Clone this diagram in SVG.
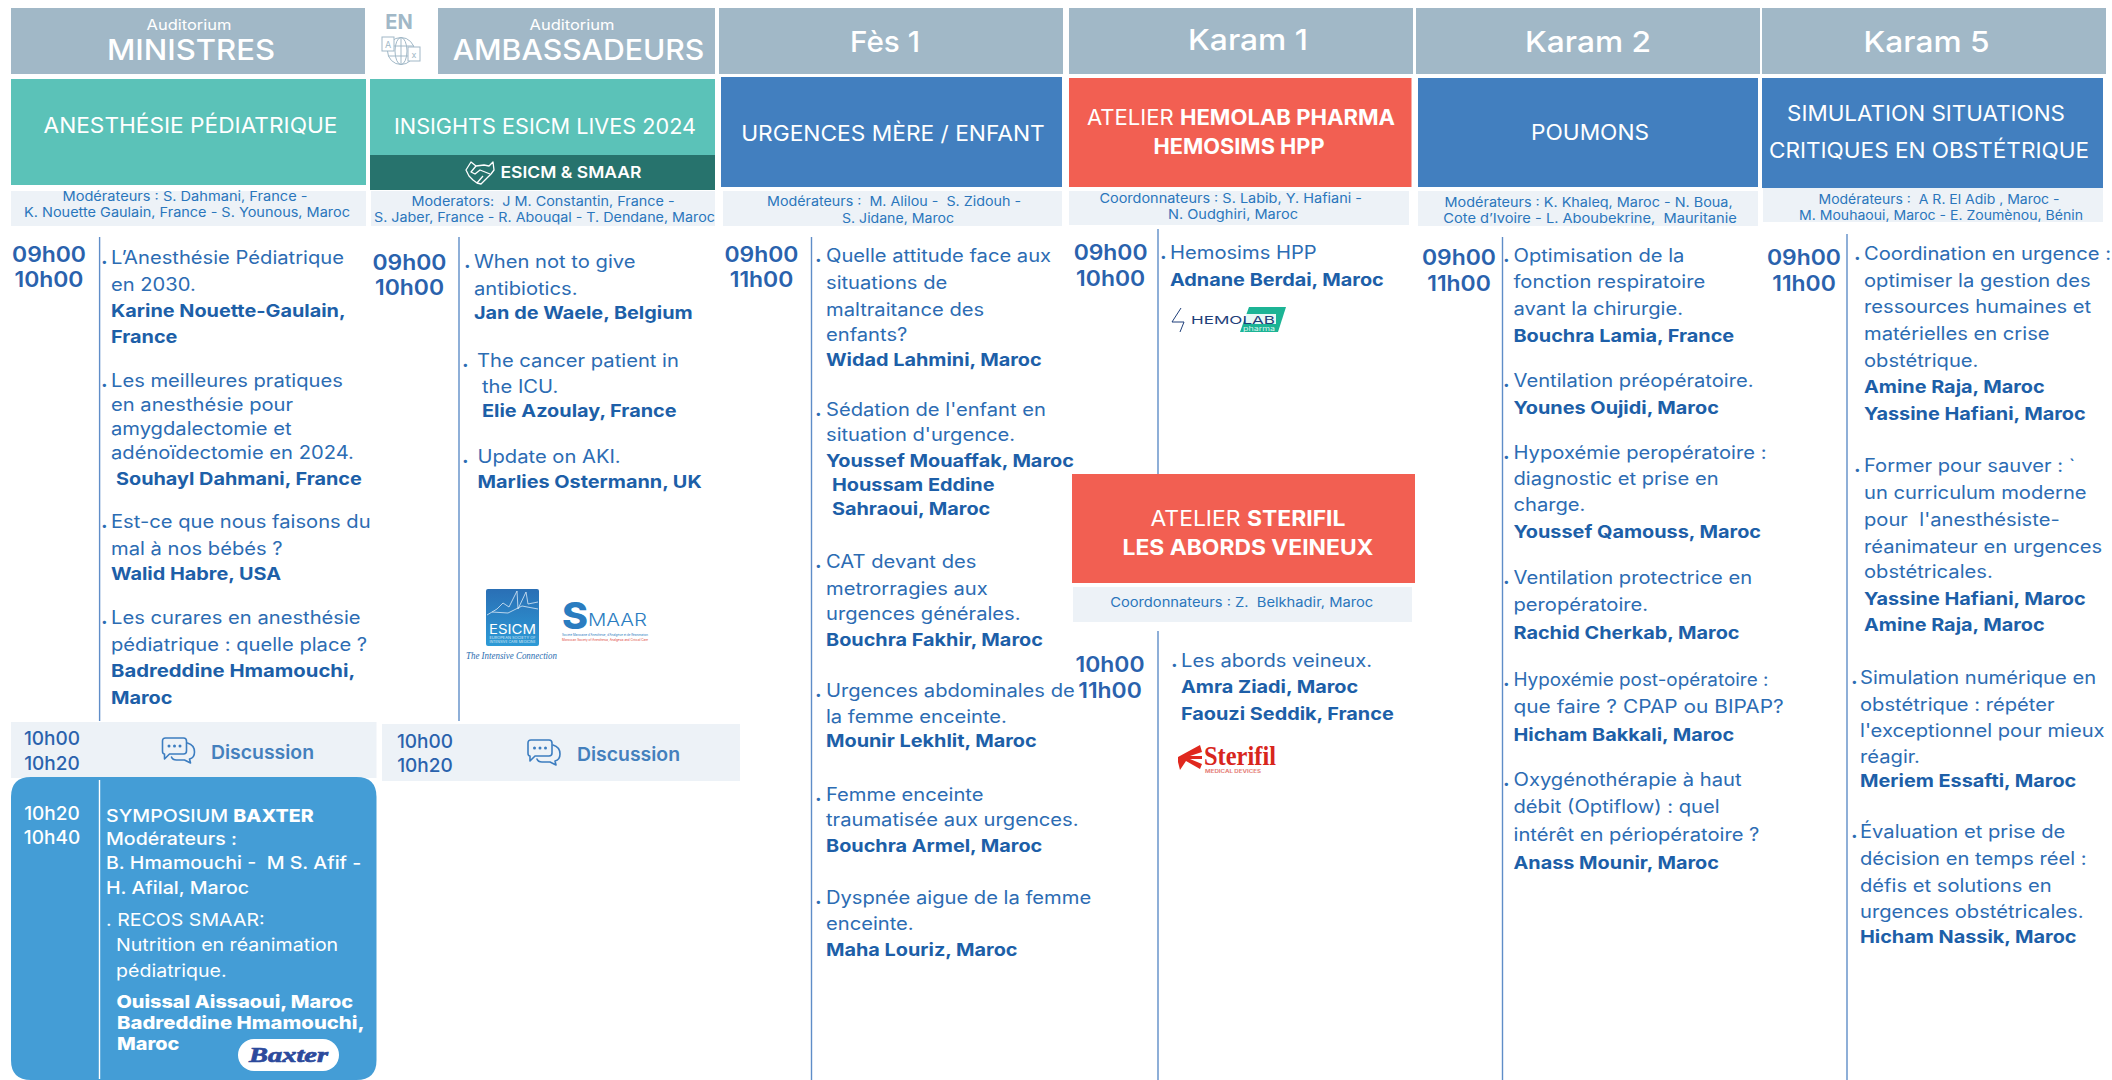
<svg xmlns="http://www.w3.org/2000/svg" width="2112" height="1080" viewBox="0 0 2112 1080">
<style>
text{font-family:Inter,"Noto Sans","Liberation Sans",sans-serif}
.hd{fill:#a1b8c7}
.hs{fill:#fff;font-size:14.5px;text-anchor:middle}
.ht{fill:#fff;font-size:29px;font-weight:500;text-anchor:middle}
.ti{fill:#fff;font-size:21px;text-anchor:middle}
.tib{font-weight:700}
.mb{fill:#edf2f7}
.mt{fill:#2a76bc;font-size:13px;text-anchor:middle}
.t{fill:#2a62ad;font-size:21px;font-weight:600;text-anchor:middle;transform-box:fill-box;transform-origin:50% 50%;transform:scaleX(1.09)}
.ts{fill:#2a62ad;font-size:19px;font-weight:500;text-anchor:middle}
.tw{fill:#fff;font-size:19px;font-weight:500;text-anchor:middle}
.b,.n,.w,.wb{transform-box:fill-box;transform-origin:0 50%;transform:scaleX(1.12)}
.n,.wb{transform:scaleX(1.135)}
.b{fill:#2c6cb3;font-size:18px}
.n{fill:#1d5fa8;font-size:17.5px;font-weight:700}
.d{fill:#2c6cb3;font-size:20px;font-weight:700}
.w{fill:#fff;font-size:17.5px}
.wb{fill:#fff;font-size:17.5px;font-weight:800}
.x16{transform:scaleX(1.16)}
.x05{transform:scaleX(1.05)}
.disc{fill:#4480bd;font-size:19px;font-weight:600}
.l{stroke:#5f8dc8;stroke-width:1.4;fill:none}
.ic{fill:none;stroke:#3c7dc0;stroke-width:1.6;stroke-linejoin:round;stroke-linecap:round}
</style>
<defs>
<linearGradient id="eg" x1="0" y1="0" x2="0" y2="1"><stop offset="0" stop-color="#2a6fb5"/><stop offset="1" stop-color="#2d9ad6"/></linearGradient>
<g id="chat">
<path class="ic" d="M3 0H21Q24 0 24 3V13Q24 16 21 16H7L2 21V16Q0 16 0 13V3Q0 0 3 0Z"/>
<path class="ic" d="M25 5Q32 7 32 14Q32 20 27 21L28 25L22 22H14Q10 22 9 19"/>
<circle cx="6.500" cy="8" r="1.500" fill="#3c7dc0"/><circle cx="12" cy="8" r="1.500" fill="#3c7dc0"/><circle cx="17.500" cy="8" r="1.500" fill="#3c7dc0"/>
</g>
</defs>
<rect width="2112" height="1080" fill="#fff"/>

<g id="connectors">
<path class="l" d="M99.600 237V721"/>
<path class="l" d="M459 237V721"/>
<path class="l" d="M811.500 237V1080"/>
<path class="l" d="M1158 229V478"/>
<path class="l" d="M1158 631V1080"/>
<path class="l" d="M1502.500 237V1080"/>
<path class="l" d="M1847 234V1080"/>
</g>

<g id="lang-en">
<text x="399" y="29" font-size="20" font-weight="700" fill="#a1b8c7" text-anchor="middle">EN</text>
<g fill="none" stroke="#a1b8c7" stroke-width="1">
<circle cx="401" cy="51" r="13.500"/><ellipse cx="401" cy="51" rx="6" ry="13.500"/><path d="M388 46H414M388 56H414M401 37.500V64.500"/>
<rect x="382" y="37" width="12" height="14" fill="#fff"/><rect x="408" y="47" width="12" height="14" fill="#fff"/>
</g>
<text x="388" y="48" font-size="9" fill="#a1b8c7" text-anchor="middle">A</text>
<text x="414" y="58" font-size="9" fill="#a1b8c7" text-anchor="middle">x</text>
</g>

<g id="col-ministres">
<rect class="hd" x="11" y="8" width="354" height="66"/>
<text class="hs" x="189" y="30" textLength="85" lengthAdjust="spacingAndGlyphs">Auditorium</text>
<text class="ht" x="191" y="60" textLength="168" lengthAdjust="spacingAndGlyphs">MINISTRES</text>
<rect x="11" y="79" width="355" height="106" fill="#5bc2b8"/>
<text class="ti" x="190.500" y="133" textLength="294" lengthAdjust="spacingAndGlyphs">ANESTHÉSIE PÉDIATRIQUE</text>
<rect class="mb" x="11" y="191" width="355" height="35"/>
<text class="mt" x="185" y="201" textLength="245" lengthAdjust="spacingAndGlyphs">Modérateurs : S. Dahmani, France -</text>
<text class="mt" x="187" y="217" textLength="326" lengthAdjust="spacingAndGlyphs">K. Nouette Gaulain, France - S. Younous, Maroc</text>
<text class="t" x="49" y="262">09h00</text><text class="t" x="49" y="287">10h00</text>
<text class="d" x="101" y="264">.</text><text class="b" x="111" y="264">L’Anesthésie Pédiatrique</text>
<text class="b" x="111" y="291">en 2030.</text>
<text class="n" x="111" y="317">Karine Nouette-Gaulain,</text>
<text class="n" x="111" y="343">France</text>
<text class="d" x="101" y="387">.</text><text class="b" x="111" y="387">Les meilleures pratiques</text>
<text class="b" x="111" y="411">en anesthésie pour</text>
<text class="b" x="111" y="435">amygdalectomie et</text>
<text class="b" x="111" y="459">adénoïdectomie en 2024.</text>
<text class="n" x="116" y="485">Souhayl Dahmani, France</text>
<text class="d" x="101" y="528">.</text><text class="b" x="111" y="528">Est-ce que nous faisons du</text>
<text class="b" x="111" y="555">mal à nos bébés ?</text>
<text class="n" x="111" y="580">Walid Habre, USA</text>
<text class="d" x="101" y="624">.</text><text class="b" x="111" y="624">Les curares en anesthésie</text>
<text class="b" x="111" y="651">pédiatrique : quelle place ?</text>
<text class="n x16" x="111" y="677">Badreddine Hmamouchi,</text>
<text class="n" x="111" y="704">Maroc</text>
</g>

<g id="discussion-1">
<rect class="mb" x="11" y="722" width="365.500" height="56"/>
<text class="ts" x="52" y="745">10h00</text><text class="ts" x="52" y="770">10h20</text>
<use href="#chat" x="162.500" y="738"/>
<text class="disc" x="211" y="759" textLength="103" lengthAdjust="spacingAndGlyphs">Discussion</text>
</g>

<g id="symposium-baxter">
<path d="M31 777H356.500Q376.500 777 376.500 797V1060Q376.500 1080 356.500 1080H31Q11 1080 11 1060V797Q11 777 31 777Z" fill="#449dd6"/>
<path d="M99.500 780V1079" stroke="#fff" stroke-width="1.400"/>
<text class="tw" x="52" y="820">10h20</text><text class="tw" x="52" y="844">10h40</text>
<text class="w" x="106" y="822" font-weight="500">SYMPOSIUM <tspan font-weight="800">BAXTER</tspan></text>
<text class="w" x="106" y="845" font-weight="500">Modérateurs :</text>
<text class="w" x="106" y="869" font-weight="500" xml:space="preserve">B. Hmamouchi -  M S. Afif -</text>
<text class="w" x="106" y="894" font-weight="500">H. Afilal, Maroc</text>
<text class="w" x="106" y="926">. RECOS SMAAR:</text>
<text class="w" x="116" y="951">Nutrition en réanimation</text>
<text class="w" x="116" y="977">pédiatrique.</text>
<text class="wb" x="116.500" y="1008">Ouissal Aissaoui, Maroc</text>
<text class="wb x16" x="117" y="1029">Badreddine Hmamouchi,</text>
<text class="wb" x="117" y="1050">Maroc</text>
<rect x="238" y="1039" width="101" height="32" rx="16" fill="#fff"/>
<text x="288.500" y="1062" font-size="22" font-weight="700" font-style="italic" fill="#2c4a9c" text-anchor="middle" textLength="79" lengthAdjust="spacingAndGlyphs" style="font-family:'Liberation Serif',serif" stroke="#2c4a9c" stroke-width=".7">Baxter</text>
</g>

<g id="col-ambassadeurs">
<rect class="hd" x="438" y="8" width="277" height="66"/>
<text class="hs" x="572" y="30" textLength="85" lengthAdjust="spacingAndGlyphs">Auditorium</text>
<text class="ht" x="578.500" y="60" textLength="251.600" lengthAdjust="spacingAndGlyphs">AMBASSADEURS</text>
<rect x="370" y="79" width="345" height="76" fill="#5bc2b8"/>
<text class="ti" x="545" y="134" textLength="302" lengthAdjust="spacingAndGlyphs">INSIGHTS ESICM LIVES 2024</text>
<rect x="370" y="155" width="345" height="35" fill="#27736d"/>
<g fill="none" stroke="#fff" stroke-width="1.300" stroke-linejoin="round"><path d="M466 170L471 162L476 166L484 165L489 166L493 162L494 170L491 174L481 184L477 183L473 180L469 176Z"/><path d="M476 166L471 172L475 174L480 170L490 174M477 183L483 176"/></g>
<text x="500.500" y="178" fill="#fff" font-size="16" font-weight="600" textLength="141" lengthAdjust="spacingAndGlyphs">ESICM &amp; SMAAR</text>
<rect class="mb" x="371" y="191" width="344" height="35"/>
<text class="mt" x="543" y="206" textLength="263" lengthAdjust="spacingAndGlyphs" xml:space="preserve">Moderators:  J M. Constantin, France -</text>
<text class="mt" x="544.500" y="222" textLength="341" lengthAdjust="spacingAndGlyphs">S. Jaber, France - R. Abouqal - T. Dendane, Maroc</text>
<text class="t" x="409.500" y="270">09h00</text><text class="t" x="409.500" y="295">10h00</text>
<text class="d" x="464" y="268">.</text><text class="b" x="474" y="268">When not to give</text>
<text class="b" x="474" y="295">antibiotics.</text>
<text class="n" x="474" y="319">Jan de Waele, Belgium</text>
<text class="d" x="462" y="367">.</text><text class="b" x="477" y="367">The cancer patient in</text>
<text class="b" x="482" y="393">the ICU.</text>
<text class="n" x="482" y="417">Elie Azoulay, France</text>
<text class="d" x="462" y="463">.</text><text class="b" x="477.500" y="463">Update on AKI.</text>
<text class="n" x="477.500" y="488">Marlies Ostermann, UK</text>
<g id="logo-esicm">
<rect x="486" y="589" width="53" height="57" rx="2" fill="url(#eg)"/>
<path d="M487 615L497 609L503 603L509 607L517 591L518 609L526 592L528 604L538 602M492 612L508 613L522 606L538 609" fill="none" stroke="#dceaf6" stroke-width=".8"/>
<text x="512.500" y="634" fill="#fff" font-size="13" text-anchor="middle" textLength="47" lengthAdjust="spacingAndGlyphs">ESICM</text>
<text x="512.500" y="639" fill="#dceaf6" font-size="3" text-anchor="middle" textLength="46" lengthAdjust="spacingAndGlyphs">EUROPEAN SOCIETY OF</text>
<text x="512.500" y="643" fill="#dceaf6" font-size="3" text-anchor="middle" textLength="46" lengthAdjust="spacingAndGlyphs">INTENSIVE CARE MEDICINE</text>
<text x="466" y="659" fill="#2a6db0" font-size="11" font-style="italic" textLength="91" lengthAdjust="spacingAndGlyphs" style="font-family:'Liberation Serif',serif">The Intensive Connection</text>
</g>
<g id="logo-smaar">
<text x="562" y="629" fill="#2a7cc0" font-size="37" font-weight="800" textLength="26" lengthAdjust="spacingAndGlyphs">S</text>
<text x="588" y="626" fill="#2a7cc0" font-size="17" font-weight="300" textLength="59" lengthAdjust="spacingAndGlyphs">MAAR</text>
<text x="562" y="636" fill="#2a7cc0" font-size="3" textLength="86" lengthAdjust="spacingAndGlyphs">Société Marocaine d'Anesthésie, d'Analgésie et de Réanimation</text>
<text x="562" y="640.500" fill="#e0443c" font-size="3" textLength="86" lengthAdjust="spacingAndGlyphs">Moroccan Society of Anesthesia, Analgesia and Critical Care</text>
</g>
</g>

<g id="discussion-2">
<rect class="mb" x="382" y="724" width="358" height="57"/>
<text class="ts" x="425" y="748">10h00</text><text class="ts" x="425" y="772">10h20</text>
<use href="#chat" x="528" y="740"/>
<text class="disc" x="577" y="761" textLength="103" lengthAdjust="spacingAndGlyphs">Discussion</text>
</g>

<g id="col-fes1">
<rect class="hd" x="719" y="8" width="344" height="66"/>
<text class="ht" x="885" y="52" textLength="70" lengthAdjust="spacingAndGlyphs">Fès 1</text>
<rect x="721" y="77" width="341" height="110" fill="#427fbf"/>
<text class="ti" x="893" y="141" textLength="303.600" lengthAdjust="spacingAndGlyphs">URGENCES MÈRE / ENFANT</text>
<rect class="mb" x="723" y="191" width="339" height="35"/>
<text class="mt" x="894" y="206" textLength="254" lengthAdjust="spacingAndGlyphs" xml:space="preserve">Modérateurs :  M. Alilou -  S. Zidouh -</text>
<text class="mt" x="898" y="223" textLength="112" lengthAdjust="spacingAndGlyphs">S. Jidane, Maroc</text>
<text class="t" x="761.500" y="262">09h00</text><text class="t" x="761.500" y="287">11h00</text>
<text class="d" x="815" y="262">.</text><text class="b" x="826" y="262">Quelle attitude face aux</text>
<text class="b" x="826" y="289">situations de</text>
<text class="b" x="826" y="316">maltraitance des</text>
<text class="b" x="826" y="341">enfants?</text>
<text class="n" x="826" y="366">Widad Lahmini, Maroc</text>
<text class="d" x="815" y="416">.</text><text class="b" x="826" y="416">Sédation de l'enfant en</text>
<text class="b" x="826" y="441">situation d'urgence.</text>
<text class="n" x="826" y="467">Youssef Mouaffak, Maroc</text>
<text class="n" x="832" y="491">Houssam Eddine</text>
<text class="n" x="832" y="515">Sahraoui, Maroc</text>
<text class="d" x="815" y="568">.</text><text class="b" x="826" y="568">CAT devant des</text>
<text class="b" x="826" y="595">metrorragies aux</text>
<text class="b" x="826" y="620">urgences générales.</text>
<text class="n" x="826" y="646">Bouchra Fakhir, Maroc</text>
<text class="d" x="815" y="697">.</text><text class="b" x="826" y="697">Urgences abdominales de</text>
<text class="b" x="826" y="723">la femme enceinte.</text>
<text class="n" x="826" y="747">Mounir Lekhlit, Maroc</text>
<text class="d" x="815" y="801">.</text><text class="b" x="826" y="801">Femme enceinte</text>
<text class="b" x="826" y="826">traumatisée aux urgences.</text>
<text class="n" x="826" y="852">Bouchra Armel, Maroc</text>
<text class="d" x="815" y="904">.</text><text class="b" x="826" y="904">Dyspnée aigue de la femme</text>
<text class="b" x="826" y="930">enceinte.</text>
<text class="n" x="826" y="956">Maha Louriz, Maroc</text>
</g>

<g id="col-karam1">
<rect class="hd" x="1069" y="8" width="344" height="66"/>
<text class="ht" x="1248" y="50" textLength="120" lengthAdjust="spacingAndGlyphs">Karam 1</text>
<rect x="1069" y="78" width="342.500" height="109" fill="#f25f52"/>
<text class="ti" x="1241" y="125" textLength="308" lengthAdjust="spacingAndGlyphs">ATELIER <tspan class="tib">HEMOLAB PHARMA</tspan></text>
<text class="ti tib" x="1239" y="154" textLength="171" lengthAdjust="spacingAndGlyphs">HEMOSIMS HPP</text>
<rect class="mb" x="1069" y="191" width="340" height="34"/>
<text class="mt" x="1230.700" y="203" textLength="262.500" lengthAdjust="spacingAndGlyphs">Coordonnateurs : S. Labib, Y. Hafiani -</text>
<text class="mt" x="1233" y="219" textLength="130" lengthAdjust="spacingAndGlyphs">N. Oudghiri, Maroc</text>
<text class="t" x="1110.600" y="260">09h00</text><text class="t" x="1110.600" y="286">10h00</text>
<text class="d" x="1160" y="259">.</text><text class="b" x="1170" y="259">Hemosims HPP</text>
<text class="n" x="1170" y="286">Adnane Berdai, Maroc</text>
<g id="logo-hemolab">
<path d="M1181 308L1172 322H1184L1180 332" fill="none" stroke="#1f3f7a" stroke-width="1"/>
<path d="M1249 307H1286L1278 332H1240Z" fill="#1cb495"/>
<rect x="1245" y="314" width="31" height="10" fill="#fff" opacity=".9"/>
<text x="1191" y="323.500" fill="#1f3f7a" font-size="11" textLength="84" lengthAdjust="spacingAndGlyphs">HEMOLAB</text>
<text x="1243" y="330.500" fill="#d8f3ec" font-size="6.500" textLength="32" lengthAdjust="spacingAndGlyphs">pharma</text>
</g>
</g>

<g id="atelier-sterifil">
<rect x="1072" y="474" width="343" height="109" fill="#f25f52"/>
<text class="ti" x="1248" y="526" textLength="195" lengthAdjust="spacingAndGlyphs">ATELIER <tspan class="tib">STERIFIL</tspan></text>
<text class="ti tib" x="1248" y="555" textLength="251" lengthAdjust="spacingAndGlyphs">LES ABORDS VEINEUX</text>
<rect class="mb" x="1073" y="587" width="339" height="35"/>
<text class="mt" x="1241.700" y="607" textLength="263" lengthAdjust="spacingAndGlyphs" xml:space="preserve">Coordonnateurs : Z.  Belkhadir, Maroc</text>
<text class="t" x="1110" y="672">10h00</text><text class="t" x="1110" y="698">11h00</text>
<text class="d" x="1171" y="667">.</text><text class="b" x="1181" y="667">Les abords veineux.</text>
<text class="n" x="1181" y="693">Amra Ziadi, Maroc</text>
<text class="n" x="1181" y="720">Faouzi Seddik, France</text>
<g id="logo-sterifil">
<path d="M1178 757L1200 745L1202 752L1190 756L1202 756V759L1190 759L1202 764L1200 769L1186 761L1180 770L1178 762Z" fill="#e0281e"/>
<text x="1204" y="765" fill="#d8261c" font-size="28" font-weight="700" textLength="72" lengthAdjust="spacingAndGlyphs" style="font-family:'Liberation Serif',serif">Sterifil</text>
<text x="1205" y="772.500" fill="#e58078" font-size="4.500" font-weight="700" textLength="56" lengthAdjust="spacingAndGlyphs">MEDICAL DEVICES</text>
</g>
</g>

<g id="col-karam2">
<rect class="hd" x="1416" y="8" width="344" height="66"/>
<text class="ht" x="1588" y="52" textLength="126" lengthAdjust="spacingAndGlyphs">Karam 2</text>
<rect x="1418" y="78" width="340" height="109" fill="#427fbf"/>
<text class="ti" x="1590" y="140" textLength="118" lengthAdjust="spacingAndGlyphs">POUMONS</text>
<rect class="mb" x="1418" y="191" width="340" height="35"/>
<text class="mt" x="1588.600" y="207" textLength="288" lengthAdjust="spacingAndGlyphs">Modérateurs : K. Khaleq, Maroc - N. Boua,</text>
<text class="mt" x="1590" y="223" textLength="293.500" lengthAdjust="spacingAndGlyphs" xml:space="preserve">Cote d’Ivoire - L. Aboubekrine,  Mauritanie</text>
<text class="t" x="1459" y="265">09h00</text><text class="t" x="1459" y="291">11h00</text>
<text class="d" x="1503" y="262">.</text><text class="b" x="1513.500" y="262">Optimisation de la</text>
<text class="b" x="1513.500" y="288">fonction respiratoire</text>
<text class="b" x="1513.500" y="315">avant la chirurgie.</text>
<text class="n" x="1513.500" y="342">Bouchra Lamia, France</text>
<text class="d" x="1503" y="387">.</text><text class="b" x="1513.500" y="387">Ventilation préopératoire.</text>
<text class="n" x="1513.500" y="414">Younes Oujidi, Maroc</text>
<text class="d" x="1503" y="459">.</text><text class="b" x="1513.500" y="459">Hypoxémie peropératoire :</text>
<text class="b" x="1513.500" y="485">diagnostic et prise en</text>
<text class="b" x="1513.500" y="511">charge.</text>
<text class="n" x="1513.500" y="538">Youssef Qamouss, Maroc</text>
<text class="d" x="1503" y="584">.</text><text class="b" x="1513.500" y="584">Ventilation protectrice en</text>
<text class="b" x="1513.500" y="611">peropératoire.</text>
<text class="n" x="1513.500" y="639">Rachid Cherkab, Maroc</text>
<text class="d" x="1503" y="686">.</text><text class="b x05" x="1513.500" y="686">Hypoxémie post-opératoire :</text>
<text class="b x16" x="1513.500" y="713">que faire ? CPAP ou BIPAP?</text>
<text class="n" x="1513.500" y="741">Hicham Bakkali, Maroc</text>
<text class="d" x="1503" y="786">.</text><text class="b" x="1513.500" y="786">Oxygénothérapie à haut</text>
<text class="b" x="1513.500" y="813">débit (Optiflow) : quel</text>
<text class="b" x="1513.500" y="841">intérêt en périopératoire ?</text>
<text class="n" x="1513.500" y="869">Anass Mounir, Maroc</text>
</g>

<g id="col-karam5">
<rect class="hd" x="1762" y="8" width="344" height="66"/>
<text class="ht" x="1926.600" y="52" textLength="126" lengthAdjust="spacingAndGlyphs">Karam 5</text>
<rect x="1762" y="78" width="341" height="110" fill="#427fbf"/>
<text class="ti" x="1926" y="121" textLength="278" lengthAdjust="spacingAndGlyphs">SIMULATION SITUATIONS</text>
<text class="ti" x="1929" y="158" textLength="320" lengthAdjust="spacingAndGlyphs">CRITIQUES EN OBSTÉTRIQUE</text>
<rect class="mb" x="1763" y="188" width="340" height="34"/>
<text class="mt" x="1939" y="204" textLength="241" lengthAdjust="spacingAndGlyphs" xml:space="preserve">Modérateurs :  A R. El Adib , Maroc -</text>
<text class="mt" x="1941" y="220" textLength="284" lengthAdjust="spacingAndGlyphs">M. Mouhaoui, Maroc - E. Zoumènou, Bénin</text>
<text class="t" x="1804" y="265">09h00</text><text class="t" x="1804" y="291">11h00</text>
<text class="d" x="1854" y="260">.</text><text class="b" x="1864" y="260">Coordination en urgence :</text>
<text class="b" x="1864" y="287">optimiser la gestion des</text>
<text class="b" x="1864" y="313">ressources humaines et</text>
<text class="b" x="1864" y="340">matérielles en crise</text>
<text class="b" x="1864" y="367">obstétrique.</text>
<text class="n" x="1864" y="393">Amine Raja, Maroc</text>
<text class="n" x="1864" y="420">Yassine Hafiani, Maroc</text>
<text class="d" x="1854" y="472">.</text><text class="b" x="1864" y="472">Former pour sauver : `</text>
<text class="b" x="1864" y="499">un curriculum moderne</text>
<text class="b" x="1864" y="526" xml:space="preserve">pour  l'anesthésiste-</text>
<text class="b" x="1864" y="553">réanimateur en urgences</text>
<text class="b" x="1864" y="578">obstétricales.</text>
<text class="n" x="1864" y="605">Yassine Hafiani, Maroc</text>
<text class="n" x="1864" y="631">Amine Raja, Maroc</text>
<text class="d" x="1851" y="684">.</text><text class="b" x="1860" y="684">Simulation numérique en</text>
<text class="b" x="1860" y="711">obstétrique : répéter</text>
<text class="b" x="1860" y="737">l'exceptionnel pour mieux</text>
<text class="b" x="1860" y="763">réagir.</text>
<text class="n" x="1860" y="787">Meriem Essafti, Maroc</text>
<text class="d" x="1851" y="838">.</text><text class="b" x="1860" y="838">Évaluation et prise de</text>
<text class="b" x="1860" y="865">décision en temps réel :</text>
<text class="b" x="1860" y="892">défis et solutions en</text>
<text class="b" x="1860" y="918">urgences obstétricales.</text>
<text class="n" x="1860" y="943">Hicham Nassik, Maroc</text>
</g>
</svg>
